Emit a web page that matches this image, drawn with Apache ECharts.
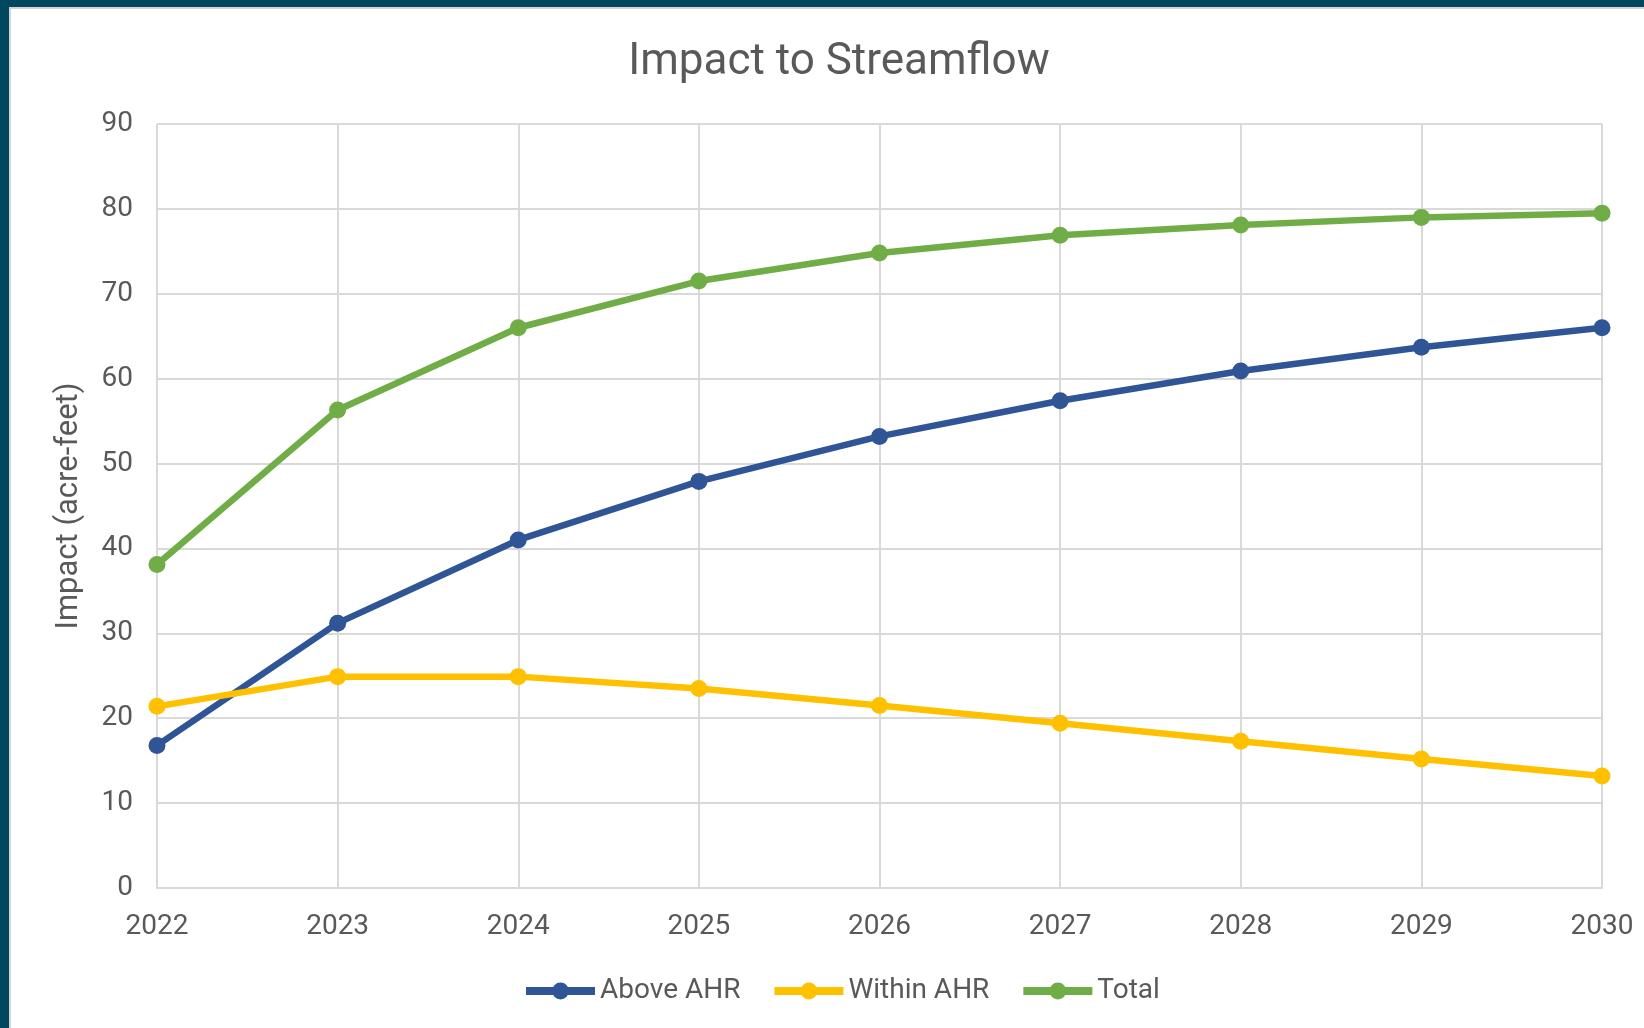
<!DOCTYPE html>
<html>
<head>
<meta charset="utf-8">
<script src="https://cdn.jsdelivr.net/npm/echarts@6/dist/echarts.min.js"></script>
<style>
  html, body { margin: 0; padding: 0; background: #00475f; }
  #chart { width: 1644px; height: 1028px; }
</style>
</head>
<body>
<div id="chart"></div>
<script>
// data
let years = ['2022', '2023', '2024', '2025', '2026', '2027', '2028', '2029', '2030'];
let aboveAHR = [16.8, 31.2, 41.0, 47.9, 53.2, 57.4, 60.9, 63.7, 66.0];
let withinAHR = [21.4, 24.9, 24.9, 23.5, 21.5, 19.4, 17.3, 15.2, 13.2];
let total = [38.1, 56.3, 66.0, 71.5, 74.8, 76.9, 78.1, 79.0, 79.5];

let font = 'Roboto, "Noto Sans", sans-serif';
let grey = '#595959';
let gridColor = '#d9d9d9';

function lineSeries(name, data, color) {
  return {
    name: name,
    type: 'line',
    data: data,
    symbol: 'circle',
    symbolSize: 17,
    lineStyle: { width: 6.5, color: color },
    itemStyle: { color: color },
    emphasis: { disabled: true }
  };
}

let charts = echarts.init(document.getElementById('chart'));
let option = {
  backgroundColor: '#00475f',
  animation: false,
  textStyle: { fontFamily: font },
  graphic: [
    {
      type: 'rect',
      z: -10,
      shape: { x: 10, y: 8, width: 1650, height: 1040 },
      style: { fill: '#ffffff', stroke: '#d4d4d4', lineWidth: 2 }
    }
  ],
  title: {
    text: 'Impact to Streamflow',
    left: 834,
    textAlign: 'center',
    top: 36,
    textStyle: { color: grey, fontSize: 44, fontWeight: 'normal', fontFamily: font }
  },
  legend: {
    left: 517,
    top: 972,
    itemWidth: 69,
    itemHeight: 21,
    itemGap: 30,
    lineStyle: { width: 8 },
    textStyle: { color: grey, fontSize: 28, fontFamily: font },
    data: ['Above AHR', 'Within AHR', 'Total']
  },
  grid: { left: 157, top: 124, right: 42, bottom: 140, containLabel: false },
  xAxis: {
    type: 'category',
    data: years,
    boundaryGap: false,
    axisLine: { lineStyle: { color: gridColor, width: 2 } },
    axisTick: { show: false },
    axisLabel: { color: grey, fontSize: 28, margin: 25, fontFamily: font },
    splitLine: { show: true, lineStyle: { color: gridColor, width: 2 } }
  },
  yAxis: {
    type: 'value',
    min: 0,
    max: 90,
    interval: 10,
    name: 'Impact (acre-feet)',
    nameLocation: 'middle',
    nameGap: 72,
    nameRotate: 90,
    nameTextStyle: { color: grey, fontSize: 31, fontFamily: font },
    axisLine: { show: false },
    axisTick: { show: false },
    axisLabel: { color: grey, fontSize: 28, margin: 24, fontFamily: font, padding: [4, 0, 0, 0] },
    splitLine: { lineStyle: { color: gridColor, width: 2 } }
  },
  series: [
    lineSeries('Above AHR', aboveAHR, '#2f5597'),
    lineSeries('Within AHR', withinAHR, '#ffc000'),
    lineSeries('Total', total, '#70ad47')
  ]
};
charts.setOption(option);
</script>
</body>
</html>
